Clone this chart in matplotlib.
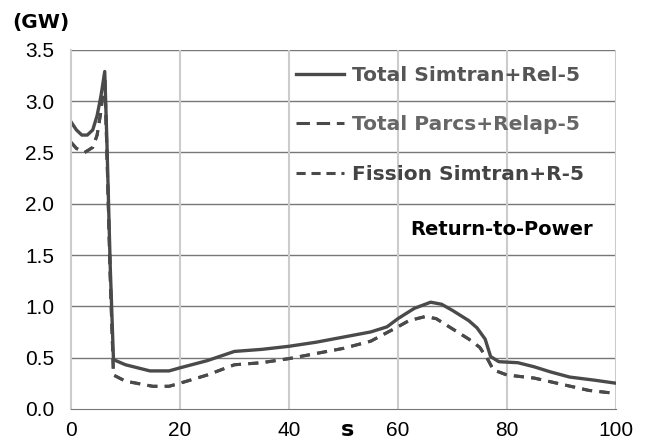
import matplotlib.pyplot as plt
from matplotlib.lines import Line2D

plt.rcParams['font.family'] = ['Liberation Sans', 'DejaVu Sans']

# time (s) and power (GW)
t_sim = [0, 1, 2, 3, 4, 4.8, 5.5, 6.2, 6.6, 7.2, 7.8, 10, 14.5, 18, 20, 25, 30, 35, 40, 45, 50, 55, 58, 60,
         63, 66, 68, 70, 73, 74.5, 76, 77, 78.5, 82, 85, 88, 91.5, 96, 100]
total_sim = [2.8, 2.72, 2.67, 2.67, 2.72, 2.86, 3.05, 3.29, 2.6, 1.4, 0.48, 0.43, 0.37, 0.37, 0.4, 0.47,
             0.56, 0.58, 0.61, 0.65, 0.7, 0.75, 0.8, 0.88, 0.98, 1.04, 1.02, 0.96, 0.86, 0.79, 0.68, 0.51,
             0.46, 0.45, 0.41, 0.36, 0.31, 0.28, 0.25]

t_par = [0, 1, 2.5, 4, 4.8, 5.5, 6.2, 6.6, 7.2, 7.8, 10, 15, 18, 20, 25, 30, 35, 40, 45, 50, 55, 60, 62,
         65, 67, 70, 73, 75, 76.5, 77.5, 80, 85, 90, 95, 100]
total_parcs = [2.6, 2.54, 2.5, 2.55, 2.67, 2.9, 3.25, 2.5, 1.3, 0.33, 0.27, 0.22, 0.22, 0.25, 0.33, 0.43,
               0.45, 0.49, 0.54, 0.59, 0.66, 0.8, 0.86, 0.9, 0.88, 0.78, 0.68, 0.6, 0.48, 0.38, 0.33, 0.3,
               0.24, 0.18, 0.15]
fission_sim = [2.6, 2.54, 2.5, 2.55, 2.67, 2.9, 3.25, 2.5, 1.3, 0.33, 0.27, 0.22, 0.22, 0.25, 0.33, 0.43,
               0.45, 0.49, 0.54, 0.59, 0.66, 0.8, 0.86, 0.9, 0.88, 0.78, 0.68, 0.6, 0.48, 0.38, 0.33, 0.3,
               0.24, 0.18, 0.15]

labels = ['Total Simtran+Rel-5', 'Total Parcs+Relap-5', 'Fission Simtran+R-5']

fig = plt.figure(figsize=(6.45, 4.42), dpi=100)
ax = fig.add_axes([0.110, 0.075, 0.845, 0.812])

col = '#4a4a4a'
ax.plot(t_sim, total_sim, color=col, lw=2.4)
ax.plot(t_par, total_parcs, color=col, lw=2.2, dashes=(3.3, 2.4))
ax.plot(t_par, fission_sim, color=col, lw=2.2, dashes=(3.3, 2.4))

ax.set_xlim(0, 100)
ax.set_ylim(0, 3.5)
ax.set_xticks(range(0, 101, 20))
ax.set_yticks([i * 0.5 for i in range(8)])
ax.set_yticklabels(['0.0', '0.5', '1.0', '1.5', '2.0', '2.5', '3.0', '3.5'])
ax.tick_params(length=0, labelsize=15)
ax.tick_params(axis='y', pad=12)
ax.tick_params(axis='x', pad=9)

for y in [0.5, 1.0, 1.5, 2.0, 2.5, 3.0, 3.5]:
    ax.axhline(y, color='#777777', lw=1, zorder=0)
for x in [20, 40, 60, 80, 100]:
    ax.axvline(x, color='#cccccc', lw=1.5, zorder=0)
for s in ['top', 'right']:
    ax.spines[s].set_visible(False)
ax.spines['left'].set_color('#cccccc')
ax.spines['left'].set_linewidth(1.5)
ax.spines['bottom'].set_color('#777777')

handles = [Line2D([], [], color=col, lw=2.4),
           Line2D([], [], color=col, lw=2.2, dashes=(4.4, 2.2)),
           Line2D([], [], color=col, lw=2.2, dashes=(3.0, 1.9))]
leg = ax.legend(handles, labels, loc='upper right', bbox_to_anchor=(0.975, 1.005), frameon=False,
                prop={'family': 'DejaVu Sans', 'weight': 'bold', 'size': 14.5},
                handlelength=2.4, handletextpad=0.4, labelspacing=1.5)
for txt, c in zip(leg.get_texts(), ['#555555', '#666666', '#444444']):
    txt.set_color(c)

ax.text(0.958, 0.5, 'Return-to-Power', transform=ax.transAxes, ha='right', va='center',
        family='DejaVu Sans', fontsize=14, fontweight='bold', color='black')
fig.text(0.064, 0.95, '(GW)', family='DejaVu Sans', fontsize=14.5, fontweight='bold',
         ha='center', va='center')
fig.text(0.538, 0.004, 's', family='DejaVu Sans', fontsize=16, fontweight='bold',
         ha='center', va='bottom')

fig.savefig('out.png', dpi=100)
